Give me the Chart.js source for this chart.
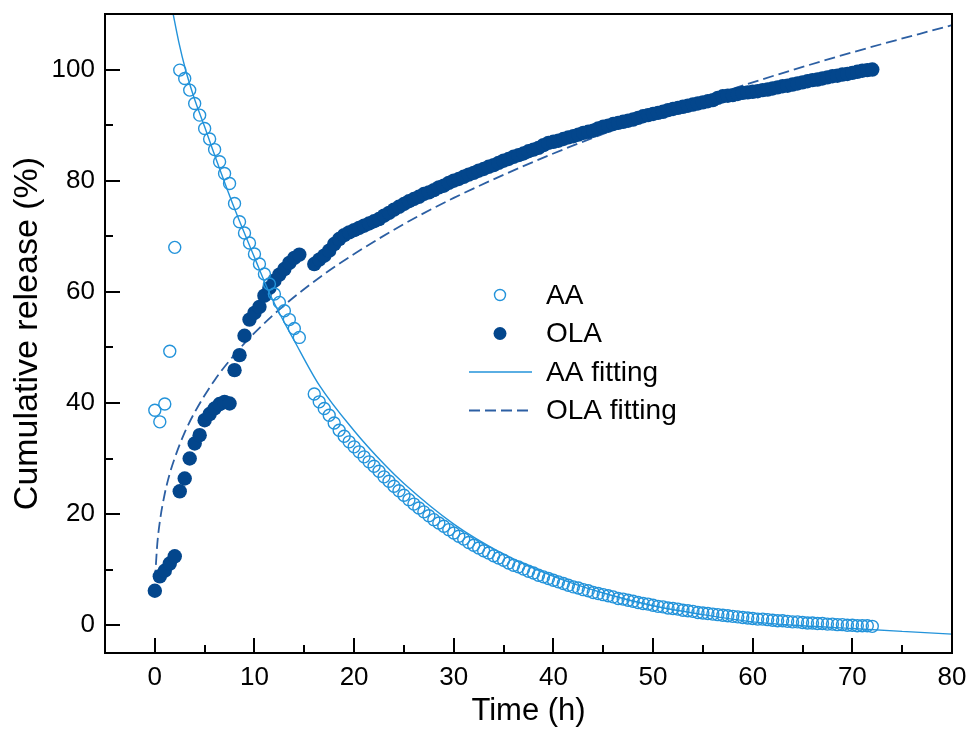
<!DOCTYPE html>
<html>
<head>
<meta charset="utf-8">
<title>Cumulative release</title>
<script src="https://cdn.jsdelivr.net/npm/chart.js@4.4.1/dist/chart.umd.min.js"></script>
<style>
  html, body { margin: 0; padding: 0; background: #fff; }
  #wrap { width: 969px; height: 732px; position: relative; }
</style>
</head>
<body>
<div id="wrap"><canvas id="releaseChart"></canvas></div>
<script>
// sampling times (h) shared by both measured series, no samples at 15 / 15.5 h
const sampleTimes = [
  0, 0.5, 1, 1.5, 2, 2.5, 3, 3.5, 4, 4.5,
  5, 5.5, 6, 6.5, 7, 7.5, 8, 8.5, 9, 9.5,
  10, 10.5, 11, 11.5, 12, 12.5, 13, 13.5, 14, 14.5,
  16, 16.5, 17, 17.5, 18, 18.5, 19, 19.5, 20, 20.5,
  21, 21.5, 22, 22.5, 23, 23.5, 24, 24.5, 25, 25.5,
  26, 26.5, 27, 27.5, 28, 28.5, 29, 29.5, 30, 30.5,
  31, 31.5, 32, 32.5, 33, 33.5, 34, 34.5, 35, 35.5,
  36, 36.5, 37, 37.5, 38, 38.5, 39, 39.5, 40, 40.5,
  41, 41.5, 42, 42.5, 43, 43.5, 44, 44.5, 45, 45.5,
  46, 46.5, 47, 47.5, 48, 48.5, 49, 49.5, 50, 50.5,
  51, 51.5, 52, 52.5, 53, 53.5, 54, 54.5, 55, 55.5,
  56, 56.5, 57, 57.5, 58, 58.5, 59, 59.5, 60, 60.5,
  61, 61.5, 62, 62.5, 63, 63.5, 64, 64.5, 65, 65.5,
  66, 66.5, 67, 67.5, 68, 68.5, 69, 69.5, 70, 70.5,
  71, 71.5, 72
];

const aaRelease = [
  38.7, 36.6, 39.8, 49.3, 68.0, 99.9, 98.4, 96.3, 93.9, 91.8,
  89.4, 87.5, 85.6, 83.4, 81.3, 79.5, 75.9, 72.6, 70.6, 68.8,
  66.8, 65.0, 63.2, 61.4, 59.6, 58.1, 56.6, 55.0, 53.4, 51.8,
  41.6, 40.2, 39.0, 37.8, 36.4, 35.1, 34.0, 33.0, 32.1, 31.2,
  30.3, 29.4, 28.6, 27.7, 26.7, 25.9, 25.0, 24.2, 23.4, 22.6,
  21.8, 21.1, 20.4, 19.7, 19.0, 18.4, 17.8, 17.2, 16.6, 16.0,
  15.5, 14.9, 14.4, 13.9, 13.4, 13.0, 12.5, 12.1, 11.7, 11.2,
  10.8, 10.5, 10.1, 9.7, 9.4, 9.0, 8.7, 8.4, 8.1, 7.8,
  7.5, 7.2, 6.9, 6.7, 6.4, 6.2, 5.9, 5.7, 5.5, 5.3,
  5.1, 4.8, 4.7, 4.5, 4.3, 4.1, 3.9, 3.8, 3.6, 3.4,
  3.3, 3.1, 3.0, 2.9, 2.7, 2.6, 2.5, 2.3, 2.2, 2.1,
  2.0, 1.9, 1.8, 1.7, 1.6, 1.5, 1.4, 1.3, 1.2, 1.1,
  1.1, 1.0, 0.9, 0.8, 0.8, 0.7, 0.6, 0.6, 0.5, 0.4,
  0.4, 0.3, 0.3, 0.2, 0.2, 0.1, 0.1, 0.0, 0.0, -0.1,
  -0.1, -0.1, -0.2
];

const olaRelease = [
  6.2, 8.8, 9.8, 11.1, 12.4, 24.1, 26.4, 30.0, 32.7, 34.2,
  36.9, 38.0, 39.0, 39.8, 40.2, 39.9, 45.9, 48.6, 52.1, 55.0,
  56.2, 57.3, 59.3, 60.7, 62.0, 63.1, 64.1, 65.2, 66.1, 66.7,
  65.0, 65.8, 66.5, 67.4, 68.6, 69.5, 70.2, 70.7, 71.1, 71.5,
  71.9, 72.3, 72.7, 73.1, 73.7, 74.2, 74.8, 75.3, 75.8, 76.3,
  76.7, 77.1, 77.6, 77.9, 78.3, 78.8, 79.1, 79.6, 80.0, 80.3,
  80.7, 81.1, 81.4, 81.8, 82.1, 82.5, 82.8, 83.2, 83.6, 83.9,
  84.3, 84.6, 84.9, 85.3, 85.6, 85.9, 86.4, 86.8, 87.0, 87.2,
  87.5, 87.8, 88.0, 88.3, 88.6, 88.8, 89.0, 89.4, 89.7, 89.9,
  90.2, 90.4, 90.6, 90.8, 91.0, 91.3, 91.6, 91.8, 92.0, 92.2,
  92.4, 92.7, 92.9, 93.1, 93.3, 93.5, 93.7, 93.9, 94.1, 94.3,
  94.5, 94.9, 95.2, 95.3, 95.4, 95.6, 95.8, 95.9, 96.0, 96.1,
  96.3, 96.4, 96.6, 96.8, 97.0, 97.1, 97.3, 97.5, 97.7, 97.9,
  98.1, 98.2, 98.4, 98.6, 98.8, 98.9, 99.1, 99.2, 99.4, 99.6,
  99.8, 99.9, 100.0
];

// fitted curves at a few times
const aaFitTimes = [1.3, 1.84, 2.4, 3.05, 4, 5, 5.8, 7.8, 10, 11.65, 14, 16.5, 20, 23, 25, 30, 35, 40, 45, 50, 55, 60, 65, 70, 75, 80];
const aaFitValues = [115, 110, 105, 100.2, 94.6, 89.7, 85.6, 75.9, 66.2, 59.2, 51.2, 43.2, 35.0, 29.0, 25.5, 18.2, 12.8, 8.8, 5.8, 3.5, 1.9, 0.6, -0.1, -0.6, -1.1, -1.6];

const olaFitTimes = [0, 0.1, 0.25, 0.5, 1, 1.5, 2, 3, 4, 6, 8, 10, 13, 17, 20, 25, 30, 40, 50, 60, 70, 80];
const olaFitValues = [8, 10.7, 14.7, 18.6, 23.7, 27.3, 30.1, 34.7, 38.3, 44.1, 48.7, 52.6, 57.6, 63.2, 66.8, 72.2, 76.9, 84.9, 91.7, 97.7, 103.1, 108.0];

const xTickValues = [0, 10, 20, 30, 40, 50, 60, 70, 80];
const xMinorTicks = [5, 15, 25, 35, 45, 55, 65, 75];
const yTickValues = [0, 20, 40, 60, 80, 100];
const yMinorTicks = [10, 30, 50, 70, 90];

const AA_BLUE = '#2393da';
const OLA_NAVY = '#03468c';
const OLA_DASH = '#2c5fa3';
const FONT = "'Liberation Sans', Arial, sans-serif";

const toPoints = (xs, ys) => xs.map((x, i) => ({ x: x, y: ys[i] }));

// box around the plot plus inward pointing tick marks
const frameTicks = {
  id: 'frameTicks',
  afterDatasetsDraw(chart) {
    const { ctx, chartArea: a, scales: { x, y } } = chart;
    ctx.save();
    ctx.strokeStyle = '#000';
    ctx.lineWidth = 2;
    ctx.beginPath();
    const xMark = (v, len) => {
      const px = Math.round(x.getPixelForValue(v));
      ctx.moveTo(px, a.bottom);
      ctx.lineTo(px, a.bottom - len);
    };
    const yMark = (v, len) => {
      const py = Math.round(y.getPixelForValue(v));
      ctx.moveTo(a.left, py);
      ctx.lineTo(a.left + len, py);
    };
    xTickValues.forEach(v => xMark(v, 15));
    xMinorTicks.forEach(v => xMark(v, 8));
    yTickValues.forEach(v => yMark(v, 15));
    yMinorTicks.forEach(v => yMark(v, 8));
    ctx.stroke();
    ctx.strokeRect(a.left, a.top, a.right - a.left, a.bottom - a.top);
    ctx.restore();
  }
};

// legend sits inside the plot, so it is drawn by hand
const insideLegend = {
  id: 'insideLegend',
  afterDraw(chart) {
    const { ctx } = chart;
    const rows = [295, 333.5, 372, 410.5];
    const symX = 500;
    const textX = 546;
    ctx.save();
    chart.data.datasets.forEach((ds, i) => {
      const cy = rows[i];
      if (ds.showLine) {
        ctx.beginPath();
        ctx.setLineDash(ds.borderDash || []);
        ctx.strokeStyle = ds.borderColor;
        ctx.lineWidth = ds.borderWidth;
        ctx.moveTo(469, cy);
        ctx.lineTo(532, cy);
        ctx.stroke();
        ctx.setLineDash([]);
      } else {
        ctx.beginPath();
        ctx.arc(symX, cy, ds.legendRadius, 0, Math.PI * 2);
        if (ds.pointBackgroundColor !== 'rgba(0,0,0,0)') {
          ctx.fillStyle = ds.pointBackgroundColor;
          ctx.fill();
        } else {
          ctx.strokeStyle = ds.pointBorderColor;
          ctx.lineWidth = ds.pointBorderWidth;
          ctx.stroke();
        }
      }
      ctx.fillStyle = '#000';
      ctx.font = '28px ' + FONT;
      ctx.textBaseline = 'middle';
      ctx.textAlign = 'left';
      ctx.fillText(ds.label, textX, cy + 1);
    });
    ctx.restore();
  }
};

document.addEventListener('DOMContentLoaded', () => {
  const ctx = document.getElementById('releaseChart').getContext('2d');

  new Chart(ctx, {
    type: 'scatter',
    data: {
      datasets: [
        {
          label: 'AA',
          data: toPoints(sampleTimes, aaRelease),
          showLine: false,
          pointRadius: 6,
          pointBorderWidth: 1.4,
          pointBorderColor: AA_BLUE,
          pointBackgroundColor: 'rgba(0,0,0,0)',
          legendRadius: 5.5,
          order: 0
        },
        {
          label: 'OLA',
          data: toPoints(sampleTimes, olaRelease),
          showLine: false,
          pointRadius: 7.2,
          pointBorderWidth: 0,
          pointBorderColor: OLA_NAVY,
          pointBackgroundColor: OLA_NAVY,
          legendRadius: 6.5,
          order: 2
        },
        {
          label: 'AA fitting',
          data: toPoints(aaFitTimes, aaFitValues),
          showLine: true,
          pointRadius: 0,
          borderColor: AA_BLUE,
          borderWidth: 1.4,
          cubicInterpolationMode: 'monotone',
          order: 1
        },
        {
          label: 'OLA fitting',
          data: toPoints(olaFitTimes, olaFitValues),
          showLine: true,
          pointRadius: 0,
          borderColor: OLA_DASH,
          borderWidth: 1.8,
          borderDash: [11, 5],
          cubicInterpolationMode: 'monotone',
          order: 3
        }
      ]
    },
    options: {
      responsive: true,
      maintainAspectRatio: false,
      animation: false,
      events: [],
      layout: {
        padding: { left: 0, right: 17, top: 14, bottom: 0 }
      },
      plugins: {
        legend: { display: false },
        tooltip: { enabled: false }
      },
      scales: {
        x: {
          type: 'linear',
          min: -5,
          max: 80,
          afterBuildTicks: scale => {
            scale.ticks = xTickValues.map(v => ({ value: v }));
          },
          afterFit: scale => {
            scale.height = 79;
            scale.paddingLeft = 0;
            scale.paddingRight = 0;
          },
          grid: { display: false, drawTicks: false },
          border: { display: false },
          ticks: {
            autoSkip: false,
            maxRotation: 0,
            padding: 9,
            color: '#000',
            font: { family: FONT, size: 26 }
          },
          title: {
            display: true,
            text: 'Time (h)',
            color: '#000',
            font: { family: FONT, size: 31 },
            padding: { top: 0, bottom: 2 }
          }
        },
        y: {
          type: 'linear',
          min: -5,
          max: 110,
          afterBuildTicks: scale => {
            scale.ticks = yTickValues.map(v => ({ value: v }));
          },
          afterFit: scale => {
            scale.width = 105;
            scale.paddingTop = 0;
            scale.paddingBottom = 0;
          },
          grid: { display: false, drawTicks: false },
          border: { display: false },
          ticks: {
            autoSkip: false,
            padding: 10,
            color: '#000',
            font: { family: FONT, size: 26 }
          },
          title: {
            display: true,
            text: 'Cumulative release (%)',
            color: '#000',
            font: { family: FONT, size: 34 },
            padding: { top: 7, bottom: 0 }
          }
        }
      }
    },
    plugins: [frameTicks, insideLegend]
  });
});
</script>
</body>
</html>
